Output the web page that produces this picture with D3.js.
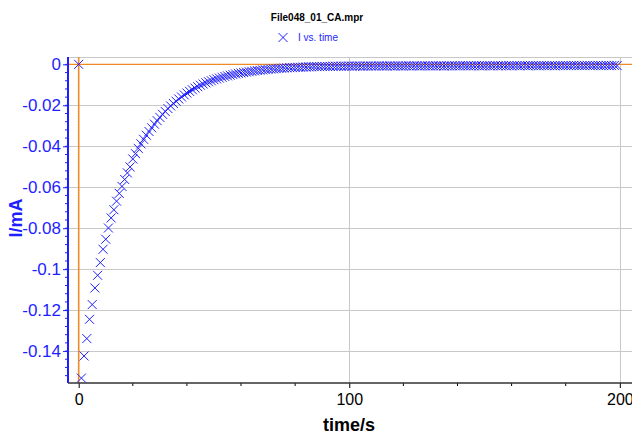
<!DOCTYPE html>
<html>
<head>
<meta charset="utf-8">
<script src="https://cdn.jsdelivr.net/npm/d3@7"></script>
<style>
  body { margin: 0; background: #fff; }
  text { font-family: "Liberation Sans", Arial, sans-serif; }
</style>
</head>
<body>
<div id="viz"></div>
<script>
var title = "File048_01_CA.mpr",
    legendLabel = "I vs. time";

// time/s
var time = [
  0, 1, 2, 3, 4, 5, 6, 7, 8, 9, 10, 11, 12, 13, 14, 15, 16, 17, 18, 19,
  20, 21, 22, 23, 24, 25, 26, 27, 28, 29, 30, 31, 32, 33, 34, 35, 36, 37, 38, 39,
  40, 41, 42, 43, 44, 45, 46, 47, 48, 49, 50, 51, 52, 53, 54, 55, 56, 57, 58, 59,
  60, 61, 62, 63, 64, 65, 66, 67, 68, 69, 70, 71, 72, 73, 74, 75, 76, 77, 78, 79,
  80, 81, 82, 83, 84, 85, 86, 87, 88, 89, 90, 91, 92, 93, 94, 95, 96, 97, 98, 99,
  100, 101, 102, 103, 104, 105, 106, 107, 108, 109, 110, 111, 112, 113, 114, 115, 116, 117, 118, 119,
  120, 121, 122, 123, 124, 125, 126, 127, 128, 129, 130, 131, 132, 133, 134, 135, 136, 137, 138, 139,
  140, 141, 142, 143, 144, 145, 146, 147, 148, 149, 150, 151, 152, 153, 154, 155, 156, 157, 158, 159,
  160, 161, 162, 163, 164, 165, 166, 167, 168, 169, 170, 171, 172, 173, 174, 175, 176, 177, 178, 179,
  180, 181, 182, 183, 184, 185, 186, 187, 188, 189, 190, 191, 192, 193, 194, 195, 196, 197, 198, 199
];

// I/mA
var current = [
  0, -0.1532, -0.1424, -0.1339, -0.1245, -0.1173, -0.1092, -0.1030, -0.0968, -0.0903,
  -0.0854, -0.0799, -0.0750, -0.0710, -0.0668, -0.0630, -0.0596, -0.0562, -0.0530, -0.0501,
  -0.0462, -0.0436, -0.0410, -0.0388, -0.0366, -0.0346, -0.0328, -0.0310, -0.0292, -0.0275,
  -0.0259, -0.0244, -0.0230, -0.0216, -0.0203, -0.0191, -0.0180, -0.0169, -0.0159, -0.0149,
  -0.0140, -0.0132, -0.0124, -0.0116, -0.0109, -0.0102, -0.0096, -0.0090, -0.0085, -0.0080,
  -0.0075, -0.0071, -0.0067, -0.0063, -0.0059, -0.0056, -0.0053, -0.0050, -0.0047, -0.0044,
  -0.0042, -0.0040, -0.0038, -0.0036, -0.0034, -0.0032, -0.0030, -0.0029, -0.0027, -0.0026,
  -0.0025, -0.0023, -0.0022, -0.0021, -0.0020, -0.0019, -0.0018, -0.0017, -0.0016, -0.0016,
  -0.0015, -0.0014, -0.0014, -0.0013, -0.0013, -0.0012, -0.0012, -0.0011, -0.0011, -0.0011,
  -0.0010, -0.0010, -0.0010, -0.0010, -0.0009, -0.0009, -0.0009, -0.0009, -0.0009, -0.0009,
  -0.0008, -0.0009, -0.0008, -0.0008, -0.0008, -0.0009, -0.0008, -0.0008, -0.0008, -0.0008,
  -0.0008, -0.0007, -0.0008, -0.0008, -0.0008, -0.0007, -0.0008, -0.0008, -0.0007, -0.0008,
  -0.0008, -0.0007, -0.0007, -0.0008, -0.0007, -0.0007, -0.0008, -0.0007, -0.0007, -0.0007,
  -0.0008, -0.0007, -0.0007, -0.0007, -0.0007, -0.0008, -0.0007, -0.0007, -0.0007, -0.0007,
  -0.0007, -0.0007, -0.0006, -0.0007, -0.0007, -0.0007, -0.0007, -0.0006, -0.0007, -0.0007,
  -0.0007, -0.0006, -0.0007, -0.0007, -0.0006, -0.0007, -0.0007, -0.0006, -0.0007, -0.0006,
  -0.0007, -0.0006, -0.0006, -0.0007, -0.0006, -0.0006, -0.0007, -0.0006, -0.0006, -0.0006,
  -0.0007, -0.0006, -0.0006, -0.0006, -0.0006, -0.0006, -0.0007, -0.0006, -0.0006, -0.0006,
  -0.0006, -0.0006, -0.0006, -0.0005, -0.0006, -0.0006, -0.0006, -0.0006, -0.0005, -0.0006,
  -0.0006, -0.0006, -0.0005, -0.0006, -0.0006, -0.0005, -0.0006, -0.0006, -0.0005, -0.0006
];

var xTicks = [0, 100, 200],
    xMinor = [20, 40, 60, 80, 120, 140, 160, 180],
    yTicks = [0, -0.02, -0.04, -0.06, -0.08, -0.1, -0.12, -0.14];

var width = 632,
    height = 434;

var plotLeft = 68, plotRight = 632, plotTop = 57, plotBottom = 383;

var svg = d3.select("#viz")
  .append("svg")
    .attr("width", width)
    .attr("height", height);

var x = d3.scaleLinear().domain([-3.95, 204.5]).range([plotLeft, plotRight]);
var y = d3.scaleLinear().domain([-0.1556, 0.0036]).range([plotBottom, plotTop]);

var blue = "#1e1eff";

// grid
svg.append("line")
    .attr("x1", plotLeft).attr("x2", plotRight)
    .attr("y1", plotTop + 0.5).attr("y2", plotTop + 0.5)
    .style("stroke", "#c8c8c8");

svg.selectAll(".hgrid")
  .data(yTicks.slice(1))
  .enter().append("line")
    .attr("x1", plotLeft).attr("x2", plotRight)
    .attr("y1", function(d) { return Math.round(y(d)) + 0.5; })
    .attr("y2", function(d) { return Math.round(y(d)) + 0.5; })
    .style("stroke", "#c8c8c8");

svg.selectAll(".vgrid")
  .data(xTicks.slice(1))
  .enter().append("line")
    .attr("x1", function(d) { return Math.round(x(d)) + 0.5; })
    .attr("x2", function(d) { return Math.round(x(d)) + 0.5; })
    .attr("y1", plotTop).attr("y2", plotBottom)
    .style("stroke", "#c8c8c8");

// zero lines
svg.append("line")
    .attr("x1", plotLeft).attr("x2", plotRight)
    .attr("y1", y(0)).attr("y2", y(0))
    .style("stroke", "#f08a24").style("stroke-width", 1.4);
svg.append("line")
    .attr("x1", x(0)).attr("x2", x(0))
    .attr("y1", plotTop).attr("y2", plotBottom)
    .style("stroke", "#f08a24").style("stroke-width", 1.6);

// x axis
var xAxis = svg.append("g")
    .attr("transform", "translate(0," + plotBottom + ")")
    .call(d3.axisBottom(x).tickValues(xTicks).tickSize(5).tickSizeOuter(0).tickPadding(6));
xAxis.select(".domain").remove();
xAxis.selectAll("text").style("font-size", "16px").style("fill", "#000");
xAxis.selectAll("line").style("stroke", "#000");
svg.append("g")
    .attr("transform", "translate(0," + plotBottom + ")")
  .selectAll("line")
  .data(xMinor)
  .enter().append("line")
    .attr("x1", function(d) { return x(d); })
    .attr("x2", function(d) { return x(d); })
    .attr("y1", 0).attr("y2", 3)
    .style("stroke", "#000");
svg.append("line")
    .attr("x1", plotLeft).attr("x2", plotRight)
    .attr("y1", plotBottom).attr("y2", plotBottom)
    .style("stroke", "#333").style("stroke-width", 1.5);

// y axis
var yMinor = d3.range(-0.152, 0.0036, 0.004);
svg.append("g")
  .selectAll("line")
  .data(yMinor)
  .enter().append("line")
    .attr("x1", plotLeft - 3).attr("x2", plotLeft)
    .attr("y1", function(d) { return y(d); })
    .attr("y2", function(d) { return y(d); })
    .style("stroke", blue);
var yAxis = svg.append("g")
    .attr("transform", "translate(" + plotLeft + ",0)")
    .call(d3.axisLeft(y).tickValues(yTicks).tickSize(5).tickSizeOuter(0).tickPadding(2)
      .tickFormat(function(d) { return d === 0 ? "0" : String(+d.toFixed(2)); }));
yAxis.select(".domain").remove();
yAxis.selectAll("text").style("font-size", "17px").style("fill", blue);
yAxis.selectAll("line").style("stroke", blue);
svg.append("line")
    .attr("x1", plotLeft).attr("x2", plotLeft)
    .attr("y1", plotTop).attr("y2", plotBottom)
    .style("stroke", blue).style("stroke-width", 2);

// points
function cross(s) {
  return "M" + (-s) + "," + (-s) + "L" + s + "," + s + "M" + (-s) + "," + s + "L" + s + "," + (-s);
}
svg.append("g")
  .selectAll("path")
  .data(time)
  .enter().append("path")
    .attr("transform", function(d, i) { return "translate(" + x(d) + "," + y(current[i]) + ")"; })
    .attr("d", cross(4.5))
    .style("stroke", blue)
    .style("stroke-width", 1)
    .style("fill", "none");

// titles
svg.append("text")
    .attr("x", 317).attr("y", 21)
    .attr("text-anchor", "middle")
    .style("font-size", "10px").style("font-weight", "bold")
    .text(title);
svg.append("path")
    .attr("transform", "translate(283,37.5)")
    .attr("d", cross(4.5))
    .style("stroke", blue).style("fill", "none");
svg.append("text")
    .attr("x", 298).attr("y", 41)
    .style("font-size", "10px").style("fill", blue)
    .text(legendLabel);

svg.append("text")
    .attr("x", 349).attr("y", 431)
    .attr("text-anchor", "middle")
    .style("font-size", "18px").style("font-weight", "bold")
    .text("time/s");
svg.append("text")
    .attr("transform", "translate(22,218) rotate(-90)")
    .attr("text-anchor", "middle")
    .style("font-size", "18px").style("font-weight", "bold").style("fill", blue)
    .text("I/mA");
</script>
</body>
</html>
